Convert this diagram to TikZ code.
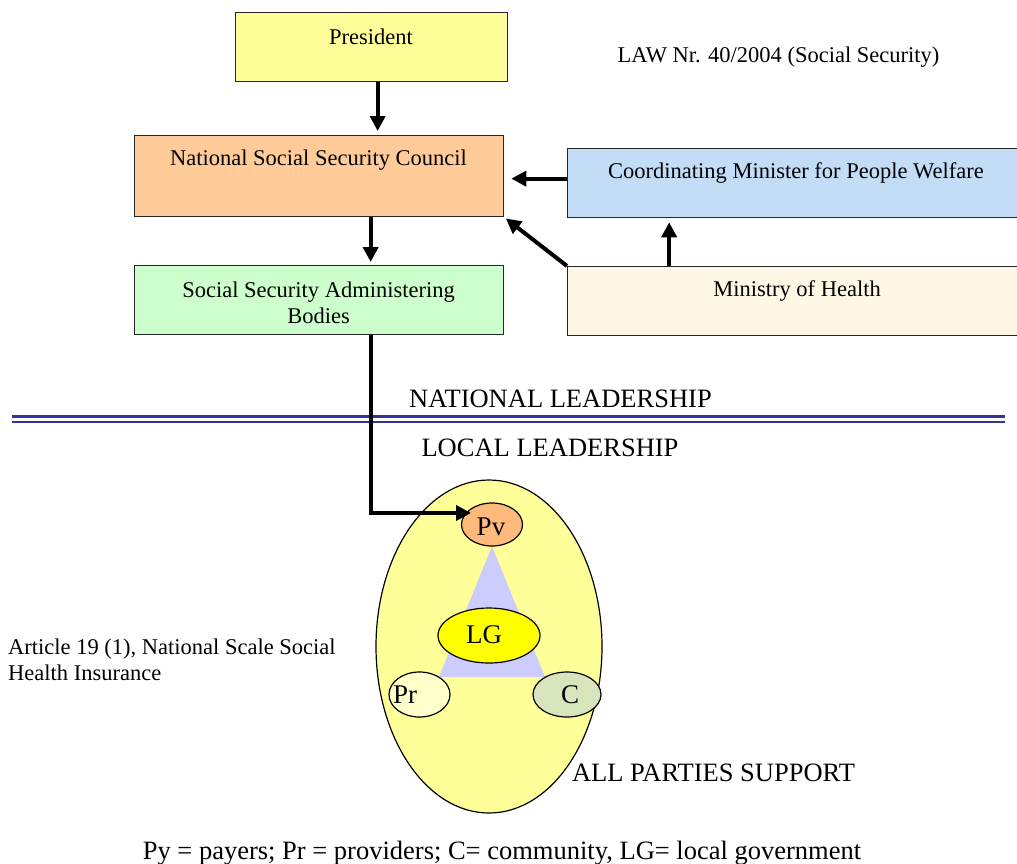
\documentclass[tikz,border=0pt]{standalone}
\usepackage{fontspec}
\setmainfont{Liberation Serif}
\usetikzlibrary{arrows.meta,shapes.geometric}
\definecolor{presfill}{HTML}{FFFF99}
\definecolor{nsscfill}{HTML}{FFCC99}
\definecolor{ssabfill}{HTML}{CCFFCC}
\definecolor{coordfill}{HTML}{C3DDF7}
\definecolor{mohfill}{HTML}{FFF7E6}
\definecolor{pvfill}{HTML}{FFB97B}
\definecolor{trifill}{HTML}{CCCCFF}
\definecolor{lgfill}{HTML}{FFFF00}
\definecolor{prfill}{HTML}{FFFFCC}
\definecolor{cfill}{HTML}{D7E4BC}
\definecolor{rulecol}{HTML}{333399}
\tikzset{
  box/.style={draw=black!85, line width=1.3pt, rectangle, inner sep=0pt, anchor=north west},
  boxtext/.style={font=\fontsize{22.5}{26}\selectfont, align=center, inner sep=0pt},
  bigtext/.style={font=\fontsize{26.5}{30}\selectfont, inner sep=0pt},
  conn/.style={line width=4pt, -{Triangle[length=15pt,width=15pt]}},
  oval/.style={ellipse, draw=black, line width=1.2pt, inner sep=0pt},
  ovaltext/.style={font=\fontsize{27}{30}\selectfont, inner sep=0pt},
  dblrule/.style={draw=rulecol},
}
\begin{document}
\begin{tikzpicture}[x=1pt,y=-1pt]
\useasboundingbox (0,0) rectangle (1017,863);
% boxes
\node[box, fill=presfill, minimum width=272pt, minimum height=69pt] (pres) at (235,12) {};
\node[box, fill=nsscfill, minimum width=369pt, minimum height=81pt] (nssc) at (134,135) {};
\node[box, fill=ssabfill, minimum width=369pt, minimum height=69pt] (ssab) at (134,265) {};
\node[box, fill=coordfill, minimum width=455pt, minimum height=69pt] (coord) at (567,148) {};
\node[box, fill=mohfill, minimum width=455pt, minimum height=69pt] (moh) at (567,266) {};
% box texts
\node[boxtext] (tpres) at (371,37) {President};
\node[boxtext] (tnssc) at (318.5,160) {National Social Security Council};
\node[boxtext] (tssab) at (318.5,302.5) {Social Security Administering\\Bodies};
\node[boxtext] (tcoord) at (796,173) {Coordinating Minister for People Welfare};
\node[boxtext] (tmoh) at (797,291) {Ministry of Health};
\node[boxtext] (tlaw) at (778.5,57) {LAW Nr. 40/2004 (Social Security)};
% rule
\draw[dblrule, line width=2.8pt] (12,416.8) coordinate (r1a) -- (1005,416.8) coordinate (r1b);
\draw[dblrule, line width=2.3pt] (12,421.8) coordinate (r2a) -- (1005,421.8) coordinate (r2b);
\node[bigtext] (natl) at (560.5,399) {NATIONAL LEADERSHIP};
\node[bigtext] (locl) at (550,448) {LOCAL LEADERSHIP};
% ellipse group
\node[oval, fill=presfill, minimum width=226pt, minimum height=333pt] (big) at (489,646.5) {};
\fill[trifill] (492,546) coordinate (tA) -- (545,677) coordinate (tC) -- (439,677) coordinate (tB) -- cycle;
\node[oval, fill=pvfill, minimum width=61pt, minimum height=43pt] (pv) at (492,524.5) {};
\node[oval, fill=lgfill, minimum width=102pt, minimum height=55pt] (lg) at (489,635.5) {};
\node[oval, fill=prfill, minimum width=61pt, minimum height=45pt] (pr) at (419.5,694.5) {};
\node[oval, fill=cfill, minimum width=68pt, minimum height=45pt] (c) at (567,694.5) {};
\node[ovaltext] (tpv) at (491,527) {Pv};
\node[ovaltext] (tlg) at (484,635) {LG};
\node[ovaltext] (tpr) at (405,695) {Pr};
\node[ovaltext] (tc) at (570,695) {C};
% other texts
\node[boxtext, align=left, anchor=west] (art) at (8,659.5) {Article 19 (1), National Scale Social\\Health Insurance};
\node[bigtext] (allp) at (713.5,773) {ALL PARTIES SUPPORT};
\node[bigtext] (legend) at (502,853) {Py = payers; Pr = providers; C= community, LG= local government};
% connectors
\draw[conn, shorten >=4pt] ([xshift=6pt]pres.south) -- ([xshift=6pt]pres.south |- nssc.north);
\draw[conn, shorten >=3pt] ([xshift=51.5pt]nssc.south) -- ([xshift=51.5pt]nssc.south |- ssab.north);
\draw[conn, shorten >=7pt] ([yshift=4.5pt]coord.west) -- ([yshift=4.5pt]coord.west -| nssc.east);
\draw[conn, shorten >=2pt] (moh.north west) -- (nssc.south east);
\draw[conn, shorten >=4pt] ([xshift=-126pt]moh.north) -- ([xshift=-126pt]moh.north |- coord.south);
\coordinate (pvin) at (471,513);
\draw[conn] ([xshift=51.5pt]ssab.south) |- (pvin);
\end{tikzpicture}
\end{document}
